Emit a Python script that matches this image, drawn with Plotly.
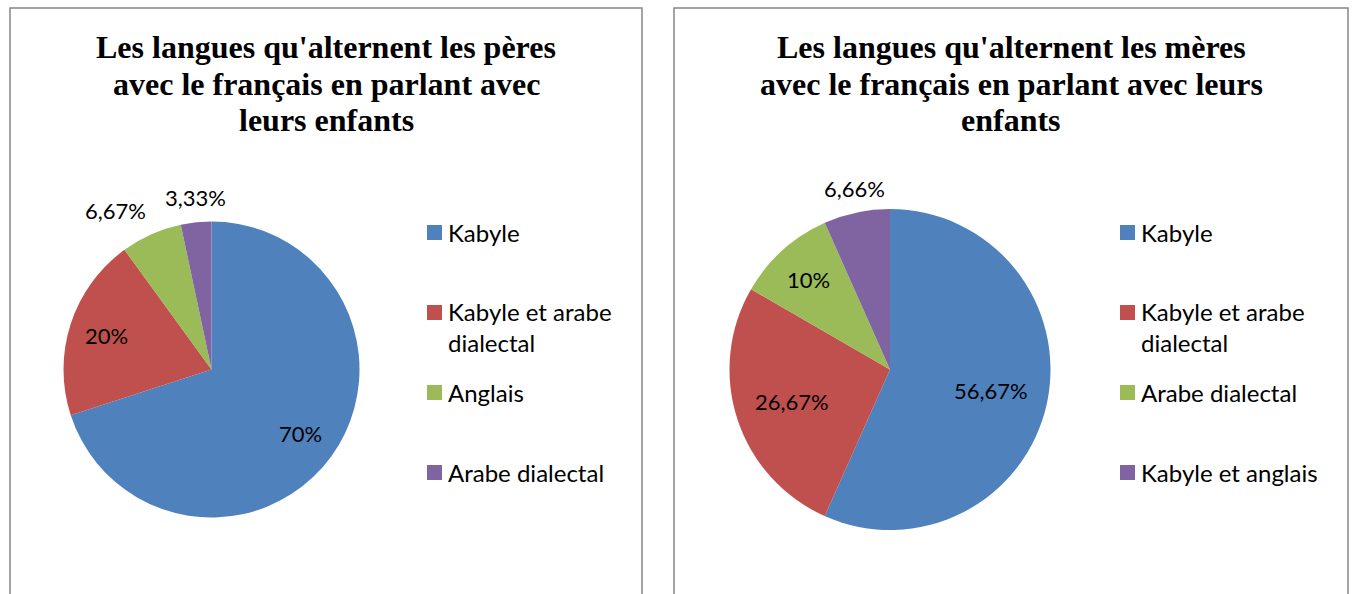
import math
import plotly.graph_objects as go

# ---- data ----
title_peres = ["Les langues qu'alternent les pères",
               "avec le français en parlant avec",
               "leurs enfants"]
title_meres = ["Les langues qu'alternent les mères",
               "avec le français en parlant avec leurs",
               "enfants"]

labels_peres = ["Kabyle", "Kabyle et arabe dialectal", "Anglais", "Arabe dialectal"]
values_peres = [70, 20, 6.67, 3.33]

labels_meres = ["Kabyle", "Kabyle et arabe dialectal", "Arabe dialectal", "Kabyle et anglais"]
values_meres = [56.67, 26.67, 10, 6.66]

# legend display text (line breaks as in the original)
legend_peres = ["Kabyle", "Kabyle et arabe<br>dialectal", "Anglais", "Arabe dialectal"]
legend_meres = ["Kabyle", "Kabyle et arabe<br>dialectal", "Arabe dialectal", "Kabyle et anglais"]

colors = ["#4F81BD", "#C0504D", "#9BBB59", "#8064A2"]

W, H = 1356, 594
LABEL_FONT = "Lato, 'Open Sans', sans-serif"
TITLE_FONT = "'Liberation Serif', 'Times New Roman', serif"
LBL_SIZE = 22


def fmt(v):
    return f"{v:g}".replace(".", ",") + "%"


def px_x(x):
    return x / W


def px_y(y):
    return 1 - y / H


fig = go.Figure()

panels = [
    dict(values=values_peres, labels=labels_peres, legend=legend_peres, title=title_peres,
         box=(10, 642), cx=211.5, cy=369.5, r=148, pos=["inside", "inside", "outside", "outside"],
         mx=434.5, tx=446),
    dict(values=values_meres, labels=labels_meres, legend=legend_meres, title=title_meres,
         box=(674, 1348), cx=890, cy=369.5, r=160.5, pos=["inside", "inside", "inside", "outside"],
         mx=1127.5, tx=1139),
]

for p in panels:
    vals = p["values"]
    total = sum(vals)
    cx, cy, r = p["cx"], p["cy"], p["r"]
    # panel border
    fig.add_shape(type="rect", xref="paper", yref="paper",
                  x0=px_x(p["box"][0]), x1=px_x(p["box"][1]), y0=px_y(8), y1=px_y(620),
                  line=dict(color="#868686", width=1.5), fillcolor="rgba(0,0,0,0)")
    # pie
    fig.add_trace(go.Pie(
        labels=p["labels"], values=vals,
        textinfo="none",
        marker=dict(colors=colors, line=dict(width=0)),
        sort=False, direction="clockwise", rotation=0,
        showlegend=False, hoverinfo="label+percent",
        domain=dict(x=[px_x(cx - r), px_x(cx + r)],
                    y=[px_y(cy + r), px_y(cy - r)]),
    ))
    # data labels, Excel-style placement at each slice's mid-angle
    cum = 0.0
    for v, pos in zip(vals, p["pos"]):
        mid = (cum + v / 2) / total * 2 * math.pi
        cum += v
        s, c = math.sin(mid), math.cos(mid)
        txt = fmt(v)
        if pos == "outside":
            ax = cx + (r + 10) * s
            ay = cy - (r + 10) * c
            xa = "center" if abs(s) < 0.25 else ("left" if s > 0 else "right")
            ya = "bottom" if c > 0.3 else ("top" if c < -0.3 else "middle")
        else:
            hw = len(txt) * 0.6 * LBL_SIZE / 2
            hh = 13
            d = 0.9 * r - (hw * abs(s) + hh * abs(c))
            ax = cx + d * s
            ay = cy - d * c
            xa, ya = "center", "middle"
        fig.add_annotation(text=txt, xref="paper", yref="paper",
                           x=px_x(ax), y=px_y(ay), xanchor=xa, yanchor=ya,
                           showarrow=False, borderpad=0,
                           font=dict(family=LABEL_FONT, size=LBL_SIZE, color="black"))
    # title lines
    for j, line in enumerate(p["title"]):
        fig.add_annotation(text="<b>" + line + "</b>", xref="paper", yref="paper",
                           x=px_x((p["box"][0] + p["box"][1]) / 2), y=px_y(47 + 36.5 * j),
                           xanchor="center", yanchor="middle", showarrow=False,
                           font=dict(family=TITLE_FONT, size=32, color="black"))
    # legend (Excel-like fixed pitch entries)
    for i, (txt, col) in enumerate(zip(p["legend"], colors)):
        yc = 232.5 + 80 * i
        fig.add_shape(type="rect", xref="paper", yref="paper",
                      x0=px_x(p["mx"] - 7.5), x1=px_x(p["mx"] + 7.5),
                      y0=px_y(yc + 7.5), y1=px_y(yc - 7.5),
                      fillcolor=col, line=dict(width=0))
        fig.add_annotation(text=txt, xref="paper", yref="paper",
                           x=px_x(p["tx"]), y=px_y(yc - 17),
                           xanchor="left", yanchor="top", showarrow=False, align="left",
                           font=dict(family=LABEL_FONT, size=24, color="black"))

fig.update_layout(
    width=W, height=H,
    margin=dict(l=0, r=0, t=0, b=0),
    paper_bgcolor="white", plot_bgcolor="white",
    showlegend=False,
)

fig.write_html("out.html", config={"displayModeBar": False},
               post_script="document.body.style.margin='0';")
